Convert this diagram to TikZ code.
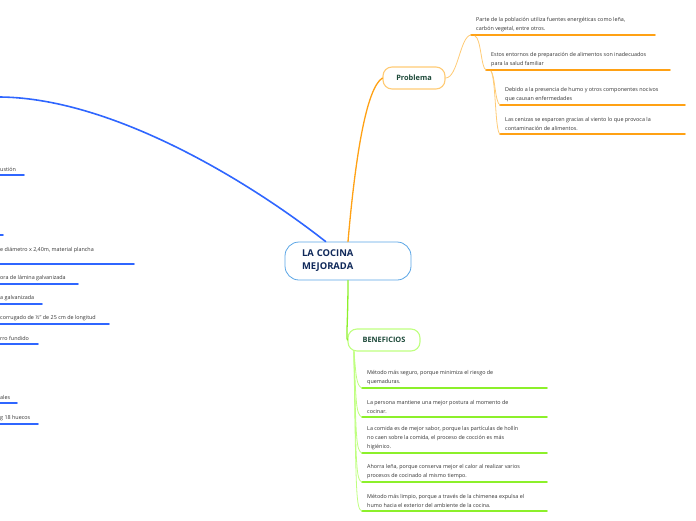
\documentclass[tikz,border=0pt]{standalone}
\usepackage{fontspec}
\setmainfont{Open Sans}
\usetikzlibrary{positioning, calc}
\definecolor{mmblue}{HTML}{2F66FF}
\definecolor{mmroot}{HTML}{5AA5E6}
\definecolor{mmnavy}{HTML}{10295A}
\definecolor{mmorange}{HTML}{FFA114}
\definecolor{mmorangelt}{HTML}{FFCB75}
\definecolor{mmgreen}{HTML}{8CF02A}
\definecolor{mmgreenlt}{HTML}{BFFF80}
\definecolor{mmtitle}{HTML}{1E4A3A}
\definecolor{mmtext}{HTML}{333333}

\tikzset{
  root/.style={draw=mmroot, line width=0.8pt, fill=white, rounded corners=14pt,
    minimum width=126pt, minimum height=38pt, inner xsep=17pt, text width=92pt,
    align=left, font=\fontsize{9.4}{13}\selectfont\bfseries, text=mmnavy},
  topic/.style={fill=white, line width=1.1pt, rounded corners=9pt, minimum height=22pt,
    font=\fontsize{7.4}{9}\selectfont\bfseries, text=mmtitle},
  leaf/.style={anchor=south west, inner xsep=5pt, inner ysep=3pt, align=left,
    font=\fontsize{5.4}{9}\selectfont, text=mmtext},
  cut/.style={leaf, inner xsep=0pt},
}

\begin{document}
\begin{tikzpicture}[x=1pt, y=-1pt, line cap=round]
  \useasboundingbox (0,0) rectangle (696,520);
  \clip (0,0) rectangle (696,520);

  % central topic
  \node[root] (root) at (348,261) {LA COCINA\\MEJORADA};

  % left branch (cut off at the page edge)
  \coordinate (offleft) at (-4,97);
  \draw[mmblue, line width=1.6pt] (root.139) .. controls (250,182) and (110,96) .. (offleft);
  \foreach \n/\y/\w/\t in {1/175/24/{ustión},
      2/235/3/{},
      3/264/134/{e diámetro x 2,40m, material plancha\\\mbox{}},
      4/284/78/{ora de lámina galvanizada},
      5/304/42/{a galvanizada},
      6/324/109/{corrugado de ½" de 25 cm de longitud},
      7/344/38/{rro fundido},
      8/403/17/{ales},
      9/424/38/{g 18 huecos}}{
    \node[cut] (l\n) at (0,\y) {\t};
    \draw[mmblue, line width=1.6pt] (l\n.south west) -- ++(\w,0);
  }

  % Problema
  \node[topic, draw=mmorangelt, minimum width=62pt] (prob) at (414,78) {Problema};
  \draw[mmorange, line width=1.3pt] (root.north) .. controls (355,160) and (366,88) .. (prob.west);

  \node[leaf] (c1) at (471,35) {Parte de la población utiliza fuentes energéticas como leña,\\carbón vegetal, entre otros.};
  \node[leaf] (c2) at (486,70) {Estos entornos de preparación de alimentos son inadecuados\\para la salud familiar};
  \node[leaf] (c3) at (500,105) {Debido a la presencia de humo y otros componentes nocivos\\que causan enfermedades};
  \node[leaf] (c4) at (500,134) {Las cenizas se esparcen gracias al viento lo que provoca la\\contaminación de alimentos.};
  \foreach \c/\w in {c1/184, c2/184, c3/185, c4/185}
    \draw[mmorange, line width=1.6pt] (\c.south west) -- ++(\w,0);

  \draw[mmorangelt, line width=0.8pt] (prob.east) .. controls (458,78) and (460,36) .. (c1.south west);
  \draw[mmorangelt, line width=0.8pt] ($(c1.south west)+(4,1)$) .. controls (481,38) and (481,68) .. (c2.south west);
  \draw[mmorangelt, line width=0.8pt] ($(c2.south west)+(5,1)$) .. controls (495,75) and (495,103) .. (c3.south west);
  \draw[mmorangelt, line width=0.8pt] ($(c2.south west)+(5,1)$) .. controls (496,80) and (495,132) .. (c4.south west);

  % BENEFICIOS
  \node[topic, draw=mmgreenlt, minimum width=72pt] (ben) at (384,340) {BENEFICIOS};
  \draw[mmgreen, line width=1.3pt] (root.south) .. controls (348,320) and (346,338) .. (ben.west);

  \foreach \n/\y/\t in {1/388/{Método más seguro, porque minimiza el riesgo de\\quemaduras.},
      2/417/{La persona mantiene una mejor postura al momento de\\cocinar.},
      3/453/{La comida es de mejor sabor, porque las partículas de hollín\\no caen sobre la comida, el proceso de cocción es más\\higiénico.},
      4/482/{Ahorra leña, porque conserva mejor el calor al realizar varios\\procesos de cocinado al mismo tiempo.},
      5/511/{Método más limpio, porque a través de la chimenea expulsa el\\humo hacia el exterior del ambiente de la cocina.}}{
    \node[leaf] (b\n) at (362,\y) {\t};
    \draw[mmgreen, line width=1.6pt] (b\n.south west) -- ++(185,0);
    \draw[mmgreenlt, line width=0.8pt] (ben.201) .. controls (356,\y-15) and (356,\y-2) .. (b\n.south west);
  }
\end{tikzpicture}
\end{document}
